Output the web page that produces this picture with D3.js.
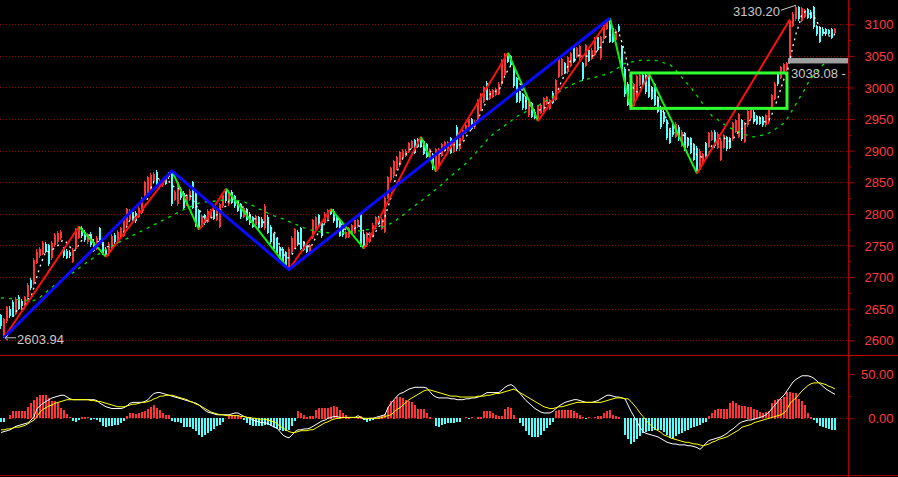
<!DOCTYPE html>
<html><head><meta charset="utf-8">
<script src="https://cdn.jsdelivr.net/npm/d3@7"></script>
<style>html,body{margin:0;padding:0;background:#000;overflow:hidden}svg{display:block}</style>
</head><body><svg id="c" width="898" height="477"></svg>
<script>
// ---------- DATA ----------
const opens = [
2640,2608,2630,2650,2660,2642,2668,2662,2655,2668,
2696,2690,2722,2733,2737,2752,2750,2730,2750,2756,
2762,2745,2742,2740,2724,2745,2762,2778,2772,2755,
2768,2756,2745,2778,2756,2745,2736,2748,2766,2755,
2765,2765,2782,2790,2803,2802,2795,2802,2827,2833,
2840,2852,2867,2843,2845,2855,2864,2866,2822,2815,
2840,2833,2815,2822,2850,2833,2806,2780,2798,2787,
2795,2806,2790,2780,2812,2838,2815,2835,2828,2820,
2815,2795,2808,2800,2795,2782,2795,2792,2777,2795,
2780,2768,2760,2748,2745,2740,2714,2740,2748,2772,
2778,2755,2750,2742,2763,2775,2798,2785,2786,2792,
2806,2805,2795,2790,2778,2762,2764,2768,2770,2780,
2800,2768,2750,2756,2765,2780,2795,2776,2772,2825,
2853,2860,2872,2878,2888,2892,2898,2905,2917,2918,
2920,2915,2910,2888,2895,2868,2875,2892,2900,2903,
2920,2898,2938,2902,2918,2928,2936,2950,2937,2948,
2965,2977,3007,2982,2985,2988,2990,3005,3020,3052,
3050,3033,3015,2995,2990,2985,2956,2975,2962,2949,
2960,2962,2974,2966,2992,2980,3017,3020,3038,3024,
3034,3065,3048,3046,3038,3034,3060,3045,3052,3080,
3046,3076,3093,3100,3094,3075,3098,3065,3030,3005,
2968,2970,2983,3004,3020,3020,3021,3000,3005,2985,
2968,2962,2948,2933,2943,2922,2938,2908,2928,2920,
2920,2910,2905,2870,2882,2912,2906,2917,2930,2905,
2886,2904,2922,2920,2918,2930,2922,2948,2914,2940,
2951,2962,2955,2953,2953,2940,2945,2966,2982,3022,
3015,3025,3028,3047,3097,3108,3127,3105,3112,3124,
3120,3127,3097,3095,3093,3092,3091,3092,3086];
const highs = [
2642,2636,2655,2654,2663,2669,2671,2665,2670,2690,
2698,2730,2744,2748,2757,2755,2752,2757,2769,2773,
2775,2748,2745,2743,2746,2778,2781,2781,2775,2770,
2771,2760,2765,2780,2758,2748,2755,2768,2769,2775,
2780,2792,2810,2808,2806,2805,2812,2827,2852,2860,
2864,2866,2869,2855,2856,2858,2866,2868,2838,2852,
2843,2836,2832,2839,2852,2835,2808,2798,2800,2807,
2808,2808,2808,2818,2833,2840,2838,2838,2830,2822,
2818,2812,2810,2803,2797,2798,2797,2795,2815,2798,
2782,2770,2762,2750,2747,2742,2748,2765,2778,2775,
2780,2757,2752,2752,2792,2797,2800,2787,2803,2808,
2808,2807,2797,2792,2780,2773,2780,2784,2792,2792,
2803,2771,2771,2772,2785,2797,2797,2795,2828,2860,
2874,2886,2892,2900,2902,2902,2914,2917,2919,2920,
2922,2917,2912,2905,2897,2905,2905,2912,2915,2916,
2922,2917,2941,2922,2934,2942,2952,2952,2948,2982,
2992,3002,3010,2998,2998,3000,3008,3045,3054,3055,
3052,3035,3017,2997,2992,2987,2980,2977,2965,2972,
2975,2985,2987,2982,2994,3014,3048,3047,3040,3050,
3056,3067,3064,3067,3040,3069,3062,3062,3080,3082,
3082,3099,3108,3110,3096,3092,3100,3067,3032,3008,
2982,3007,3020,3022,3022,3022,3022,3002,3007,2987,
2970,2965,2950,2935,2945,2945,2940,2932,2930,2922,
2922,2912,2907,2902,2897,2914,2930,2932,2932,2929,
2918,2927,2924,2922,2946,2950,2960,2950,2945,2965,
2968,2964,2957,2955,2955,2958,2966,2990,3008,3024,
3034,3039,3040,3108,3120,3130.2,3129,3128,3124,3126,
3122,3129,3099,3097,3095,3094,3093,3094,3094];
const lows = [
2618,2603.94,2628,2635,2637,2640,2648,2651,2652,2665,
2680,2688,2720,2730,2735,2738,2717,2727,2747,2752,
2758,2730,2728,2731,2722,2743,2760,2762,2755,2752,
2747,2740,2743,2755,2735,2732,2734,2745,2753,2752,
2763,2763,2780,2788,2788,2786,2793,2800,2825,2831,
2838,2848,2843,2840,2842,2846,2856,2813,2820,2813,
2822,2808,2812,2820,2808,2780,2775,2778,2783,2785,
2793,2790,2788,2778,2810,2818,2812,2815,2810,2803,
2792,2793,2788,2782,2778,2780,2775,2777,2775,2768,
2752,2742,2735,2728,2720,2715,2712,2737,2745,2750,
2743,2741,2738,2740,2760,2773,2780,2762,2784,2790,
2798,2786,2778,2763,2763,2760,2762,2766,2768,2778,
2748,2745,2748,2754,2763,2778,2782,2774,2770,2823,
2850,2857,2870,2875,2885,2890,2896,2903,2894,2904,
2905,2893,2888,2886,2870,2867,2872,2890,2898,2900,
2895,2896,2900,2900,2915,2926,2934,2933,2935,2946,
2963,2975,2980,2980,2983,2986,2988,3003,3017,3038,
3033,3000,2975,2975,2965,2964,2954,2951,2950,2947,
2958,2960,2972,2964,2974,2978,3015,3018,3022,3022,
3032,3039,3046,3044,3011,3032,3040,3043,3050,3058,
3044,3074,3091,3070,3070,3073,3088,3028,2985,2970,
2965,2968,2980,3002,3002,2990,2983,2980,2970,2960,
2935,2943,2917,2910,2922,2920,2916,2906,2900,2905,
2894,2884,2864,2868,2880,2890,2904,2915,2905,2903,
2884,2902,2900,2903,2916,2928,2920,2916,2912,2938,
2949,2943,2940,2940,2938,2938,2943,2964,2980,3003,
3013,3023,3026,3046.6,3095,3105,3105,3103,3110,3108,
3108,3093,3082,3070,3082,3082,3083,3076,3084];
const closes = [
2622,2633,2652,2638,2640,2666,2650,2654,2668,2688,
2683,2727,2740,2745,2754,2740,2720,2754,2766,2770,
2772,2733,2730,2733,2743,2775,2778,2765,2758,2768,
2750,2742,2762,2758,2738,2735,2752,2765,2756,2772,
2778,2790,2808,2805,2790,2788,2810,2825,2850,2858,
2862,2863,2845,2852,2854,2848,2858,2815,2835,2850,
2825,2810,2830,2836,2810,2782,2777,2795,2785,2805,
2806,2792,2805,2815,2830,2820,2835,2818,2812,2805,
2795,2810,2790,2785,2780,2796,2778,2780,2812,2770,
2755,2745,2738,2730,2722,2718,2745,2762,2776,2752,
2745,2743,2740,2750,2790,2795,2782,2765,2800,2806,
2800,2788,2780,2765,2766,2771,2778,2782,2790,2790,
2752,2748,2768,2770,2782,2795,2784,2792,2825,2858,
2872,2884,2890,2898,2900,2900,2912,2915,2896,2906,
2908,2895,2890,2903,2872,2902,2903,2910,2913,2914,
2897,2915,2902,2920,2932,2940,2950,2935,2946,2980,
2990,3000,2982,2995,2996,2998,3006,3043,3052,3040,
3035,3003,2977,2978,2967,2966,2978,2953,2952,2970,
2972,2983,2985,2980,2976,3012,3046,3045,3024,3048,
3054,3041,3062,3065,3013,3067,3042,3060,3078,3060,
3080,3097,3106,3072,3072,3090,3090,3030,2990,2972,
2980,3005,3018,3020,3004,2993,2985,2982,2972,2962,
2937,2945,2920,2912,2925,2943,2918,2930,2902,2907,
2896,2886,2868,2900,2895,2892,2928,2930,2907,2927,
2916,2925,2902,2905,2944,2948,2958,2918,2943,2963,
2966,2945,2942,2942,2940,2956,2964,2988,3006,3005,
3032,3037,3038.08,3105,3117,3127,3108,3126,3122,3110,
3110,3095,3084,3072,3084,3084,3085,3078,3092];
// slow moving average (green dashed)
const maSlow = [
2667,2667,2666,2666,2665,2665,2664,2664,2663,2663,
2662,2663,2665,2668,2672,2676,2680,2684,2688,2691,
2695,2698,2701,2704,2707,2710,2714,2718,2721,2725,
2728,2731,2735,2738,2741,2744,2746,2749,2752,2754,
2757,2759,2761,2764,2766,2768,2771,2773,2775,2778,
2780,2783,2785,2788,2790,2793,2795,2797,2800,2802,
2805,2807,2809,2811,2813,2815,2817,2818,2819,2819,
2820,2820,2821,2821,2822,2822,2822,2822,2821,2821,
2820,2819,2817,2815,2813,2811,2808,2806,2804,2801,
2799,2797,2796,2794,2792,2790,2788,2786,2784,2782,
2780,2778,2777,2775,2774,2773,2772,2771,2771,2770,
2770,2770,2770,2770,2770,2770,2771,2771,2772,2773,
2773,2774,2775,2776,2777,2777,2778,2779,2781,2783,
2785,2787,2791,2795,2798,2802,2806,2810,2813,2817,
2820,2824,2828,2831,2835,2839,2843,2847,2852,2856,
2860,2864,2868,2872,2876,2880,2885,2890,2895,2901,
2906,2911,2917,2922,2926,2930,2933,2937,2940,2944,
2947,2951,2954,2957,2959,2962,2964,2966,2968,2971,
2974,2977,2980,2983,2986,2989,2993,2996,2999,3001,
3004,3006,3009,3010,3011,3013,3014,3015,3016,3018,
3019,3020,3022,3023,3026,3029,3032,3036,3038,3039,
3040,3041,3042,3043,3043,3043,3043,3043,3043,3042,
3041,3039,3038,3036,3032,3027,3021,3016,3010,3005,
3000,2993,2987,2980,2974,2968,2961,2955,2952,2949,
2945,2942,2939,2936,2934,2932,2930,2928,2926,2924,
2922,2922,2923,2924,2925,2926,2928,2931,2934,2937,
2940,2944,2950,2958,2966,2974,2982,2990,2998,3007,
3014,3020,3026,3031,3036,3039,3042,3044,3046];
// MACD
const macdHist = [
-4,-4,0,4,8,8,8,8,8,13,
17,21,24,26,26,26,23,20,19,17,
12,9,5,1,-3,-5,-2,2,2,1,
-2,-1,-2,-5,-9,-10,-9,-9,-8,-8,
-6,-3,3,6,6,5,6,7,8,10,
13,15,12,9,6,4,4,-3,-4,-5,
-6,-10,-10,-10,-12,-15,-19,-21,-19,-17,
-15,-12,-9,-8,-5,0,3,4,4,4,
3,-2,-6,-8,-9,-9,-9,-9,-8,-8,
-9,-10,-12,-13,-15,-15,-13,-9,-3,8,
6,4,2,3,3,9,12,12,12,12,
13,14,13,9,6,4,2,1,1,2,
3,-2,-5,-3,-2,0,2,3,5,13,
19,21,24,24,23,21,19,18,15,11,
11,10,6,2,0,-9,-10,-8,-7,-6,
-6,-6,-5,-4,0,1,-1,1,0,2,
2,8,8,8,6,4,3,3,11,13,
12,4,0,-6,-9,-15,-19,-21,-22,-21,
-19,-15,-11,-8,-4,8,9,9,9,9,
9,8,6,4,1,-1,1,0,1,3,
3,6,8,9,4,3,2,0,-19,-24,
-29,-27,-24,-20,-17,-16,-15,-15,-13,-13,
-14,-16,-19,-23,-24,-20,-18,-17,-15,-13,
-11,-10,-9,-8,-6,-4,3,6,9,10,
10,11,11,17,19,17,15,14,14,13,
13,11,9,7,6,7,8,17,21,22,
22,24,30,30,29,28,22,20,15,6,
2,-2,-6,-9,-10,-11,-12,-13,-13];
const macdDif = [
-16,-15,-14,-13,-11,-9,-8,-7,-6,-5,
-2,2,11,14,17,19,21,23,24,25,
26,26,24,22,21,21,21,21,21,21,
21,21,20,17,15,13,12,11,11,11,
11,12,14,17,18,18,18,18,19,21,
25,28,29,29,28,27,26,25,24,23,
22,21,20,19,18,17,15,12,9,7,
6,5,4,4,4,4,4,5,6,6,
4,2,1,0,-2,-3,-4,-5,-5,-6,
-8,-10,-11,-15,-19,-21,-22,-19,-15,-13,
-13,-12,-12,-11,-9,-7,-5,-3,-2,0,
1,2,2,1,1,1,1,1,1,3,
1,-1,-1,0,0,1,2,3,4,12,
17,21,25,28,29,31,33,34,35,35,
35,35,34,30,26,24,23,23,23,23,
22,22,21,21,21,22,22,23,23,24,
25,27,29,29,29,29,29,32,35,37,
38,36,32,28,24,20,17,14,11,9,
7,6,6,6,8,11,14,16,18,19,
20,21,21,20,19,18,18,18,19,20,
22,24,26,26,25,24,24,23,22,15,
8,2,-4,-10,-15,-17,-18,-19,-20,-21,
-23,-25,-27,-28,-29,-29,-30,-30,-30,-31,
-31,-32,-33,-35,-32,-28,-25,-24,-23,-22,
-21,-19,-17,-14,-12,-9,-6,-4,-3,-2,
-2,-1,0,1,2,4,7,11,15,19,
23,26,31,36,41,44,46,48,48,48,
47,45,42,39,36,33,31,29,27];
const macdDea = [
-13,-13,-12,-12,-11,-10,-10,-9,-8,-6,
-4,-2,2,7,10,12,14,15,17,18,
19,20,21,21,21,21,21,21,21,21,
20,20,19,19,18,17,16,15,14,13,
13,13,14,15,16,16,17,18,18,19,
20,22,23,25,25,26,26,26,25,24,
23,22,21,19,18,16,15,13,11,9,
7,6,5,4,4,3,3,3,3,3,
2,2,1,1,0,0,-1,-1,-1,-2,
-3,-4,-6,-9,-11,-13,-15,-16,-16,-15,
-14,-14,-14,-13,-13,-11,-9,-7,-5,-4,
-2,-1,0,0,1,1,1,1,1,1,
1,0,0,0,0,0,0,1,2,3,
4,7,10,12,15,18,21,23,25,27,
29,31,32,32,31,30,29,28,27,26,
25,25,25,24,24,24,24,24,24,25,
25,25,26,26,27,28,28,29,30,31,
32,33,31,29,27,25,23,21,19,17,
15,13,12,11,11,12,13,13,14,15,
16,17,18,18,18,18,18,18,18,18,
18,19,20,21,22,23,23,23,22,22,
19,15,11,6,2,-2,-6,-9,-12,-14,
-16,-19,-20,-22,-23,-24,-25,-26,-27,-27,
-28,-29,-29,-30,-31,-30,-29,-27,-26,-24,
-23,-22,-21,-19,-17,-15,-13,-10,-9,-8,
-7,-5,-4,-3,-2,-1,0,1,2,3,
4,6,10,17,20,23,27,31,34,37,
39,40,40,40,39,38,36,35,33];
// zigzag pivots (bar index, price)
const majorIdx = [1, 57, 96, 203];
const majorVal = [2603.94, 2868, 2712, 3110];
const minorIdx = [1, 26, 35, 57, 66, 75, 96, 110, 121, 140, 145, 169, 179, 203, 210, 216, 232, 263];
const minorVal = [2603.94, 2780, 2732, 2868, 2775, 2840, 2712, 2808, 2745, 2922, 2867, 3055, 2947, 3110, 2965, 3022, 2864, 3108];
// consolidation box: [startIdx, endIdx, top, bottom]
const boxIdx = [210, 262];
const boxVal = [3023, 2967];
// gap marker and labels
const gapVal = [3038.08, 3046.6];
const gapIdx = 262;
const lowLabel = "2603.94", lowIdx = 1, lowVal = 2603.94;
const highLabel = "3130.20", highIdx = 265, highVal = 3130.2;
const gapLabel = "3038.08 - 1";
const priceTicks = [2600, 2650, 2700, 2750, 2800, 2850, 2900, 2950, 3000, 3050, 3100];
const priceMinor = [2625, 2675, 2725, 2775, 2825, 2875, 2925, 2975, 3025, 3075, 3125];
const macdTicks = [0, 50];
const macdMinor = [25];

// ---------- DRAW ----------
const W = 898, H = 477, AX = 848;
const N = closes.length;
const svg = d3.select('#c');
svg.append('rect').attr('width', W).attr('height', H).attr('fill', '#000');

const xs = d3.scaleLinear().domain([0, N - 1]).range([1, 1 + 3 * (N - 1)]);
const ys = d3.scaleLinear().domain([2600, 3100]).range([340.3, 24.3]);
const ym = d3.scaleLinear().domain([0, 50]).range([418.3, 374]);

const defs = svg.append('defs');
defs.append('clipPath').attr('id', 'mainclip').append('rect').attr('x', 0).attr('y', 0).attr('width', AX).attr('height', 355);
defs.append('clipPath').attr('id', 'macdclip').append('rect').attr('x', 0).attr('y', 357).attr('width', AX).attr('height', 118);

const FONT = "'Liberation Sans', Arial, sans-serif";
const AXC = '#b00000', TXT = '#ff3c3c', GRID = '#a00000';
const UP = '#ff3434', DN = '#54ffff';

// grid
svg.append('g').selectAll('line').data(priceTicks).join('line')
  .attr('x1', 0).attr('x2', AX)
  .attr('y1', d => Math.round(ys(d)) + 0.5).attr('y2', d => Math.round(ys(d)) + 0.5)
  .attr('stroke', GRID).attr('stroke-dasharray', '1,2');

const main = svg.append('g').attr('clip-path', 'url(#mainclip)');

// candles
const cg = main.append('g').attr('shape-rendering', 'crispEdges');
const idx = d3.range(N);
cg.selectAll('line').data(idx).join('line')
  .attr('x1', i => Math.round(xs(i)) - 0.5).attr('x2', i => Math.round(xs(i)) - 0.5)
  .attr('y1', i => ys(highs[i])).attr('y2', i => ys(lows[i]))
  .attr('stroke', i => closes[i] >= opens[i] ? UP : DN).attr('stroke-width', 1);
cg.selectAll('rect').data(idx).join('rect')
  .attr('x', i => Math.round(xs(i)) - 1).attr('width', 2)
  .attr('y', i => Math.round(ys(Math.max(opens[i], closes[i]))))
  .attr('height', i => Math.max(1, Math.round(ys(Math.min(opens[i], closes[i]))) - Math.round(ys(Math.max(opens[i], closes[i])))))
  .attr('fill', i => closes[i] >= opens[i] ? UP : DN);

// moving averages
const ma5 = closes.map((c, i) => i < 4 ? null : d3.mean(closes.slice(i - 4, i + 1)));
const line = d3.line().defined(d => d[1] != null).x(d => xs(d[0])).y(d => ys(d[1]));
main.append('path').attr('d', line(maSlow.map((v, i) => [i, v])))
  .attr('fill', 'none').attr('stroke', '#00e800').attr('stroke-width', 1.3).attr('stroke-dasharray', '3,5');
main.append('path').attr('d', line(ma5.map((v, i) => [i, v])))
  .attr('fill', 'none').attr('stroke', '#ffffff').attr('stroke-width', 1.3).attr('stroke-dasharray', '2,4');

// minor zigzag
const segs = d3.range(minorIdx.length - 1).map(k => ({
  a: [minorIdx[k], minorVal[k]], b: [minorIdx[k + 1], minorVal[k + 1]], up: minorVal[k + 1] > minorVal[k]
}));
main.append('g').selectAll('line').data(segs).join('line')
  .attr('x1', d => xs(d.a[0])).attr('y1', d => ys(d.a[1]))
  .attr('x2', d => xs(d.b[0])).attr('y2', d => ys(d.b[1]))
  .attr('stroke', d => d.up ? '#ff1010' : '#10f010').attr('stroke-width', 2);

// major zigzag
main.append('path').attr('d', line(majorIdx.map((v, k) => [v, majorVal[k]])))
  .attr('fill', 'none').attr('stroke', '#0a0aff').attr('stroke-width', 3);

// box
main.append('rect')
  .attr('x', xs(boxIdx[0])).attr('y', ys(boxVal[0]))
  .attr('width', xs(boxIdx[1]) - xs(boxIdx[0])).attr('height', ys(boxVal[1]) - ys(boxVal[0]))
  .attr('fill', 'none').attr('stroke', '#30ff30').attr('stroke-width', 3);

// gap marker
main.append('rect')
  .attr('x', xs(gapIdx) + 1).attr('y', ys(gapVal[1]))
  .attr('width', AX - xs(gapIdx) - 1).attr('height', ys(gapVal[0]) - ys(gapVal[1]))
  .attr('fill', '#a0a0a0');
main.append('text').attr('x', xs(gapIdx) + 4).attr('y', ys(gapVal[0]) + 10)
  .attr('dominant-baseline', 'central').attr('fill', '#c8c8c8')
  .attr('font-family', FONT).attr('font-size', 13).text(gapLabel);

// low label
const ly = ys(lowVal);
main.append('line').attr('x1', xs(lowIdx) + 1).attr('x2', xs(lowIdx) + 12).attr('y1', ly).attr('y2', ly).attr('stroke', '#c8c8c8');
main.append('path').attr('d', `M${xs(lowIdx) + 4},${ly - 2.5}L${xs(lowIdx) + 1},${ly}L${xs(lowIdx) + 4},${ly + 2.5}`).attr('fill', 'none').attr('stroke', '#c8c8c8');
main.append('text').attr('x', xs(lowIdx) + 13).attr('y', ly + 1.5)
  .attr('dominant-baseline', 'central').attr('fill', '#c8c8c8')
  .attr('font-family', FONT).attr('font-size', 13).text(lowLabel);

// high label
const hy = ys(highVal);
main.append('line').attr('x1', xs(highIdx) - 15).attr('y1', hy + 5).attr('x2', xs(highIdx)).attr('y2', hy)
  .attr('stroke', '#c8c8c8');
main.append('text').attr('x', xs(highIdx) - 16).attr('y', hy + 6.5)
  .attr('text-anchor', 'end').attr('dominant-baseline', 'central').attr('fill', '#c8c8c8')
  .attr('font-family', FONT).attr('font-size', 13).text(highLabel);

// MACD pane
svg.append('line').attr('x1', 0).attr('x2', AX).attr('y1', Math.round(ym(0)) + 0.5).attr('y2', Math.round(ym(0)) + 0.5)
  .attr('stroke', GRID).attr('stroke-dasharray', '1,2');
const mp = svg.append('g').attr('clip-path', 'url(#macdclip)');
mp.append('g').attr('shape-rendering', 'crispEdges').selectAll('rect').data(idx).join('rect')
  .attr('x', i => Math.round(xs(i)) - 1).attr('width', 2)
  .attr('y', i => Math.round(Math.min(ym(0), ym(macdHist[i]))))
  .attr('height', i => Math.max(macdHist[i] === 0 ? 0 : 1, Math.round(Math.abs(ym(0) - ym(macdHist[i])))))
  .attr('fill', i => macdHist[i] >= 0 ? UP : DN);
const mline = d3.line().x(d => xs(d[0])).y(d => ym(d[1]));
mp.append('path').attr('d', mline(macdDif.map((v, i) => [i, v]))).attr('fill', 'none').attr('stroke', '#ffffff').attr('stroke-width', 1);
mp.append('path').attr('d', mline(macdDea.map((v, i) => [i, v]))).attr('fill', 'none').attr('stroke', '#ffff00').attr('stroke-width', 1);

// separators
svg.append('line').attr('x1', 0).attr('x2', W).attr('y1', 355.5).attr('y2', 355.5).attr('stroke', '#c80000');
svg.append('line').attr('x1', 0).attr('x2', W).attr('y1', 475.5).attr('y2', 475.5).attr('stroke', '#a00000');

// axes
const ax1 = svg.append('g').attr('transform', `translate(${AX + 0.5},0)`)
  .call(d3.axisRight(ys).tickValues(priceTicks).tickSize(6).tickPadding(3).tickFormat(d3.format('d')));
const ax1m = svg.append('g').attr('transform', `translate(${AX + 0.5},0)`)
  .call(d3.axisRight(ys).tickValues(priceMinor).tickSize(3).tickFormat(''));
const ax2 = svg.append('g').attr('transform', `translate(${AX + 0.5},0)`)
  .call(d3.axisRight(ym).tickValues(macdTicks).tickSize(6).tickFormat(d3.format('.2f')));
const ax2m = svg.append('g').attr('transform', `translate(${AX + 0.5},0)`)
  .call(d3.axisRight(ym).tickValues(macdMinor).tickSize(3).tickFormat(''));
[ax1, ax1m, ax2, ax2m].forEach(a => {
  a.select('.domain').remove();
  a.selectAll('line').attr('stroke', AXC);
  a.selectAll('text').attr('x', 893 - AX).attr('text-anchor', 'end').attr('fill', TXT)
    .attr('font-family', FONT).attr('font-size', 13).attr('dy', '0.35em');
});
svg.append('line').attr('x1', AX + 0.5).attr('x2', AX + 0.5).attr('y1', 0).attr('y2', H).attr('stroke', AXC);
</script></body></html>
